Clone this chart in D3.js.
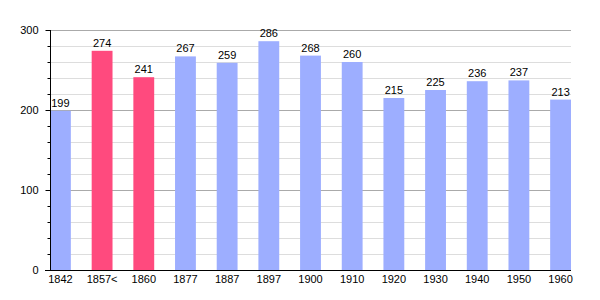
<!doctype html>
<html lang="en">
  <head>
    <meta charset="UTF-8" />
    <title>Population</title>
    <script src="https://d3js.org/d3.v7.min.js"></script>
    <style>
      body,
      html {
        margin: 0;
        padding: 0;
        background: #fff;
      }
      svg {
        display: block;
        font-family: "Liberation Sans", Arial, sans-serif;
      }
    </style>
  </head>
  <body>
    <svg id="chart" width="600" height="300"></svg>
    <script>
      // data
      const years = ["1842", "1857<", "1860", "1877", "1887", "1897", "1900", "1910", "1920", "1930", "1940", "1950", "1960"];
      const population = [199, 274, 241, 267, 259, 286, 268, 260, 215, 225, 236, 237, 213];
      const highlighted = ["1857<", "1860"];
      const majorTicks = [0, 100, 200, 300];
      const minorTicks = [20, 40, 60, 80, 120, 140, 160, 180, 220, 240, 260, 280];

      const svg = d3.select("#chart");
      const plotLeft = 50, plotRight = 571, plotTop = 30, plotBottom = 270;

      const x = d3.scaleBand().domain(years).range([plotLeft, plotRight]).paddingInner(0.5).paddingOuter(0);
      const y = d3.scaleLinear().domain([0, 300]).range([plotBottom, plotTop]);

      // minor grid
      svg.append("g")
        .selectAll("line")
        .data(minorTicks)
        .join("line")
        .attr("x1", plotLeft).attr("x2", plotRight)
        .attr("y1", d => y(d) + 0.5).attr("y2", d => y(d) + 0.5)
        .attr("stroke", "#dddddd");

      // major grid
      svg.append("g")
        .selectAll("line")
        .data(majorTicks.filter(d => d > 0))
        .join("line")
        .attr("x1", plotLeft).attr("x2", plotRight)
        .attr("y1", d => y(d) + 0.5).attr("y2", d => y(d) + 0.5)
        .attr("stroke", "#aaaaaa");

      // bars
      svg.append("g")
        .selectAll("rect")
        .data(years)
        .join("rect")
        .attr("x", d => x(d))
        .attr("width", x.bandwidth())
        .attr("y", (d, i) => y(population[i]))
        .attr("height", (d, i) => y(0) - y(population[i]))
        .attr("fill", d => highlighted.includes(d) ? "#ff4a7e" : "#9daeff");

      // value labels
      svg.append("g")
        .selectAll("text")
        .data(years)
        .join("text")
        .attr("x", d => x(d) + x.bandwidth() / 2)
        .attr("y", (d, i) => y(population[i]) - 4)
        .attr("text-anchor", "middle")
        .attr("font-size", 11)
        .attr("fill", "#000")
        .text((d, i) => population[i]);

      // y axis
      const yAxis = svg.append("g").attr("transform", `translate(${plotLeft + 0.5},0)`);
      yAxis.call(d3.axisLeft(y).tickValues(majorTicks).tickSize(5).tickPadding(7))
        .call(g => g.select(".domain").remove())
        .call(g => g.selectAll("text").attr("font-size", 11).attr("fill", "#000").attr("font-family", "Liberation Sans, Arial, sans-serif"))
        .call(g => g.selectAll("line").attr("stroke", "#000"));
      yAxis.selectAll(".minor")
        .data(minorTicks)
        .join("line")
        .attr("class", "minor")
        .attr("x1", -3).attr("x2", 0)
        .attr("y1", d => y(d) + 0.5).attr("y2", d => y(d) + 0.5)
        .attr("stroke", "#000");
      yAxis.append("line")
        .attr("x1", 0).attr("x2", 0)
        .attr("y1", plotTop).attr("y2", plotBottom)
        .attr("stroke", "#000");

      // x axis
      const xAxis = svg.append("g").attr("transform", `translate(0,${plotBottom + 0.5})`);
      xAxis.call(d3.axisBottom(x).tickSize(0).tickPadding(5))
        .call(g => g.select(".domain").remove())
        .call(g => g.selectAll("text").attr("font-size", 11).attr("fill", "#000").attr("font-family", "Liberation Sans, Arial, sans-serif"));
      xAxis.append("line")
        .attr("x1", plotLeft - 5).attr("x2", plotRight)
        .attr("stroke", "#000");
    </script>
  </body>
</html>
